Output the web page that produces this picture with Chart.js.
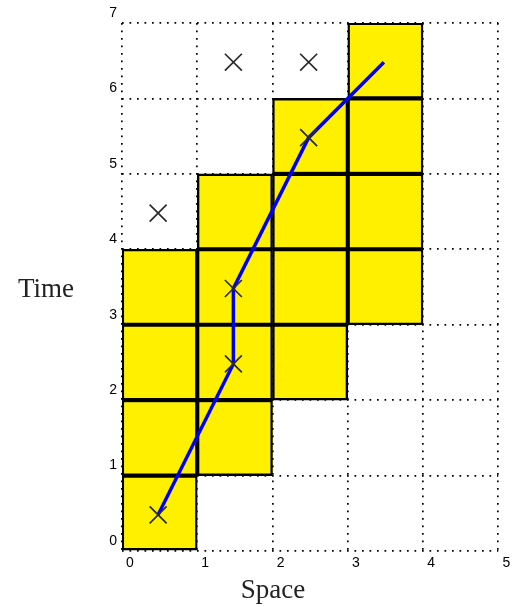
<!DOCTYPE html>
<html>
<head>
<meta charset="utf-8">
<script src="https://cdn.jsdelivr.net/npm/chart.js@4.4.0/dist/chart.umd.min.js"></script>
<style>
  html, body { margin: 0; padding: 0; background: #fff; }
</style>
</head>
<body>
<canvas id="grid" width="512" height="607"></canvas>
<script>
// occupied cells (column = space, row = time)
var cellCols = [0, 0, 0, 0, 1, 1, 1, 1, 2, 2, 2, 2, 3, 3, 3, 3];
var cellRows = [0, 1, 2, 3, 1, 2, 3, 4, 2, 3, 4, 5, 3, 4, 5, 6];

// blue trajectory
var pathX = [0.48, 1.48, 1.48, 2.48, 3.48];
var pathY = [0.48, 2.48, 3.48, 5.48, 6.48];

// cross markers
var markX = [0.48, 1.48, 1.48, 2.48, 0.48, 1.48, 2.48];
var markY = [0.48, 2.48, 3.48, 5.48, 4.48, 6.48, 6.48];

var cells = cellCols.map(function (c, i) {
  return { x: c + 0.5, y: [cellRows[i], cellRows[i] + 1] };
});
var path = pathX.map(function (x, i) { return { x: x, y: pathY[i] }; });
var marks = markX.map(function (x, i) { return { x: x, y: markY[i] }; });

// axis titles drawn flat (Chart.js would rotate the y title)
var titles = {
  id: 'titles',
  afterDraw: function (chart) {
    var c = chart.ctx, a = chart.chartArea;
    c.save();
    c.fillStyle = '#222';
    c.font = '27px "Liberation Serif"';
    c.textAlign = 'center';
    c.textBaseline = 'alphabetic';
    c.fillText('Time', 46, (a.top + a.bottom) / 2 + 10);
    c.fillText('Space', 273, 598);
    c.restore();
  }
};

var tickFont = { family: '"Liberation Sans", Arial, sans-serif', size: 14 };

new Chart(document.getElementById('grid').getContext('2d'), {
  type: 'scatter',
  data: {
    datasets: [{
      type: 'scatter',
      data: marks,
      pointStyle: 'crossRot',
      pointRadius: 12,
      pointBorderWidth: 1.7,
      borderColor: '#2a2a2a',
      backgroundColor: '#2a2a2a',
      order: 0
    }, {
      type: 'line',
      data: path,
      borderColor: '#0000ff',
      borderWidth: 3.5,
      pointRadius: 0,
      fill: false,
      tension: 0,
      order: 1
    }, {
      type: 'bar',
      data: cells,
      backgroundColor: '#fff000',
      borderColor: '#000',
      borderWidth: 2.4,
      borderSkipped: false,
      barPercentage: 1,
      categoryPercentage: 1,
      order: 2
    }]
  },
  options: {
    responsive: false,
    animation: false,
    layout: { padding: { left: 0, right: 13, top: 23, bottom: 0 } },
    plugins: { legend: { display: false }, tooltip: { enabled: false } },
    scales: {
      x: {
        type: 'linear', min: 0, max: 5, offset: false,
        afterFit: function (s) { s.height = 56; },
        grid: { color: '#000', lineWidth: 1.7, drawTicks: false, offset: false },
        border: { display: false, dash: [1.7, 5.8] },
        ticks: { stepSize: 1, color: '#000', font: tickFont, padding: 4, labelOffset: 8, maxRotation: 0 }
      },
      y: {
        type: 'linear', min: 0, max: 7,
        afterFit: function (s) { s.width = 122; },
        grid: { color: '#000', lineWidth: 1.7, drawTicks: false },
        border: { display: false, dash: [1.7, 5.8] },
        ticks: { stepSize: 1, color: '#000', font: tickFont, padding: 5, labelOffset: -10 }
      }
    }
  },
  plugins: [titles]
});
</script>
</body>
</html>
